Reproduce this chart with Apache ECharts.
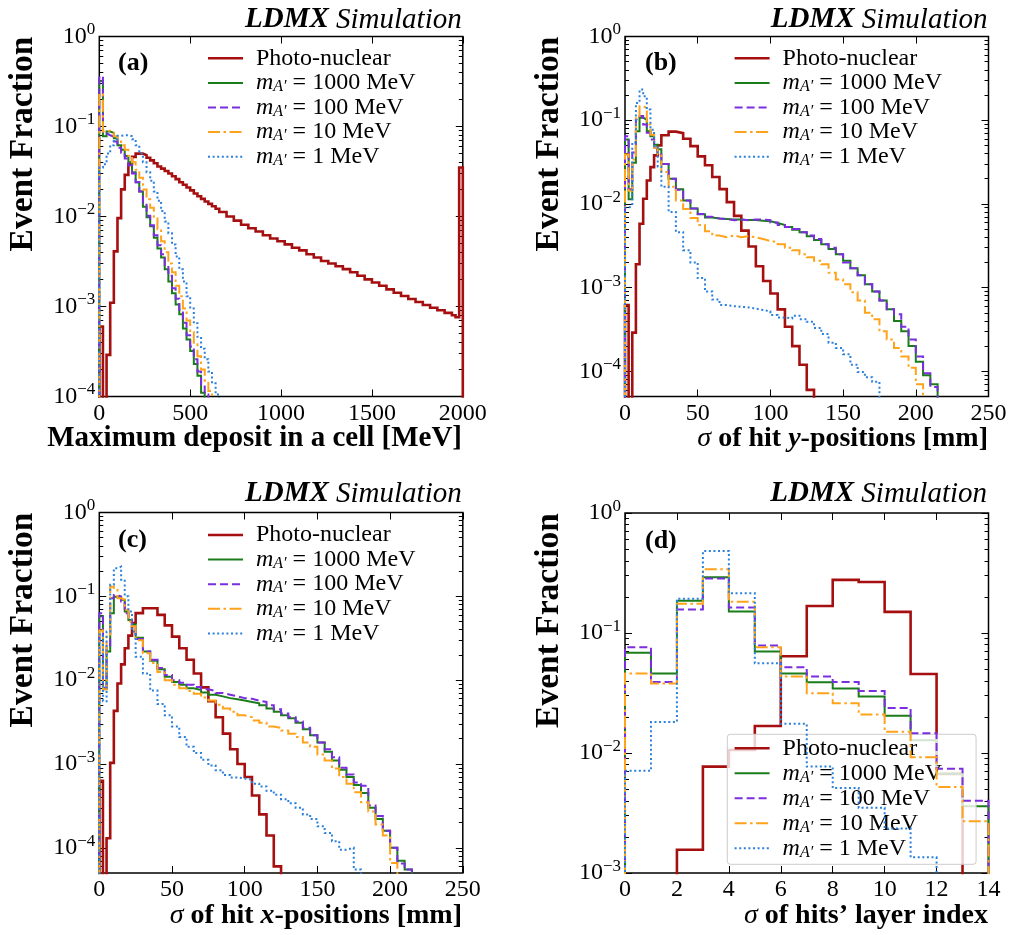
<!DOCTYPE html>
<html>
<head>
<meta charset="utf-8">
<script src="https://cdn.jsdelivr.net/npm/echarts@6.0.0/dist/echarts.min.js"></script>
<style>
html, body { margin: 0; padding: 0; background: #ffffff; }
#chart { width: 1011px; height: 935px; }
</style>
</head>
<body>
<div id="chart"></div>
<script>
function range(a, b, step) { const r = []; for (let v = a; v < b - 1e-9; v += step) r.push(+v.toFixed(4)); return r; }

// ---------------- names / labels ----------------
const seriesNames = ['Photo-nuclear', '1000', '100', '10', '1'];
const panelLetters = ['(a)', '(b)', '(c)', '(d)'];
const xTitles = ['Maximum deposit in a cell [MeV]', '{g|\u03c3} of hit {i|y}-positions [mm]', '{g|\u03c3} of hit {i|x}-positions [mm]', '{g|\u03c3} of hits\u2019 layer index'];
const yTitle = 'Event Fraction';
const yMajorAC = [1e-4, 1e-3, 1e-2, 1e-1, 1];
const yMajorD = [1e-3, 1e-2, 1e-1, 1];

// ---------------- bin edges ----------------
const edgesA = [...range(0, 660, 20), ...range(660, 1940, 40), 1940, 1960, 1980, 2000];
const edgesBC = [...range(0, 25, 2.5), ...range(25, 215, 5), 215];
const edgesD = [...range(0, 14, 1), 14];

// ---------------- (a) maximum deposit ----------------
const a_photo = [6.0e-4, 0, 2.9e-4, 1.1e-3, 4.1e-3, 9.6e-3, 0.020, 0.029, 0.038, 0.046, 0.050, 0.050, 0.048, 0.045, 0.042, 0.039, 0.036, 0.034, 0.032, 0.030, 0.028, 0.026, 0.024, 0.0225, 0.021, 0.0195, 0.018, 0.0168, 0.0157, 0.0147, 0.0138, 0.0130, 0.0122,
  0.0112, 0.0100, 0.0090, 0.0081, 0.0074, 0.0068, 0.0062, 0.0057, 0.0053, 0.0049, 0.0045, 0.0042, 0.0038, 0.0035, 0.0032, 0.0030, 0.0028, 0.0026, 0.0024, 0.0022, 0.0020, 0.00185, 0.0017, 0.00155, 0.00142, 0.00131, 0.00121, 0.00112, 0.00104, 0.00097, 0.00091, 0.00085,
  0.00080, 0.00076, 0.035];
const a_m1000 = [0.32, 0.078, 0.088, 0.085, 0.074, 0.062, 0.055, 0.047, 0.040, 0.031, 0.024, 0.019, 0.0128, 0.0098, 0.0078, 0.0058, 0.0044, 0.0035, 0.0026, 0.0019, 0.0014, 0.00105, 8.2e-4, 5.7e-4, 4.3e-4, 3.2e-4, 2.3e-4, 1.7e-4, 1.1e-4];
const a_m100 = [0.36, 0.084, 0.080, 0.077, 0.068, 0.058, 0.051, 0.044, 0.037, 0.030, 0.024, 0.019, 0.0135, 0.0102, 0.0080, 0.0062, 0.0048, 0.0038, 0.0029, 0.0022, 0.0016, 0.00122, 9.2e-4, 6.6e-4, 4.8e-4, 3.6e-4, 2.6e-4, 1.9e-4, 1.35e-4, 1.05e-4];
const a_m10 = [0.23, 0.088, 0.090, 0.086, 0.078, 0.068, 0.062, 0.055, 0.047, 0.040, 0.033, 0.027, 0.020, 0.0155, 0.0125, 0.0095, 0.0072, 0.0053, 0.0040, 0.0030, 0.0024, 0.0017, 0.0013, 9.5e-4, 7.0e-4, 5.2e-4, 3.8e-4, 2.8e-4, 2.0e-4, 1.5e-4, 1.15e-4];
const a_m1 = [0.035, 0.038, 0.050, 0.062, 0.072, 0.079, 0.080, 0.080, 0.078, 0.072, 0.062, 0.050, 0.040, 0.031, 0.025, 0.019, 0.015, 0.0115, 0.0088, 0.0065, 0.0049, 0.0036, 0.0026, 0.0019, 0.0013, 9.5e-4, 6.5e-4, 4.6e-4, 3.4e-4, 2.6e-4, 1.9e-4, 1.4e-4, 1.05e-4];

// ---------------- (b) sigma of hit y ----------------
const b_photo = [6.2e-4, 0, 2.9e-4, 1.9e-3, 5.8e-3, 0.0115, 0.019, 0.0275, 0.038, 0.050,
  0.066, 0.073, 0.070, 0.060, 0.049, 0.037, 0.029, 0.021, 0.015, 0.0105, 0.0072, 0.0048, 0.0031, 0.0018, 0.0012, 8.5e-4, 5.5e-4, 3.4e-4, 2.0e-4, 1.2e-4, 6e-5];
const b_m1000 = [0.059, 0.0114, 0.031, 0.074, 0.107, 0.102, 0.074, 0.0645, 0.051, 0.045,
  0.030, 0.020, 0.015, 0.011, 0.0088, 0.0075, 0.0069, 0.0067, 0.0066, 0.0065, 0.0065, 0.0064, 0.0064, 0.0063, 0.0062, 0.0059, 0.0056, 0.0053, 0.0049, 0.0046, 0.0041, 0.0037, 0.0033, 0.0029, 0.0025, 0.0021, 0.0017, 0.0014, 0.0011, 9e-4, 7e-4, 5.5e-4, 4.0e-4, 3.0e-4, 2.0e-4, 1.3e-4, 9e-5, 7e-5];
const b_m100 = [0.0645, 0.015, 0.041, 0.102, 0.112, 0.089, 0.071, 0.059, 0.047, 0.039,
  0.030, 0.020, 0.0148, 0.0110, 0.0088, 0.0076, 0.0070, 0.0067, 0.0066, 0.0064, 0.0065, 0.0064, 0.0065, 0.0065, 0.0064, 0.0060, 0.0056, 0.0053, 0.0050, 0.0046, 0.0042, 0.0038, 0.0033, 0.0030, 0.0025, 0.0020, 0.0017, 0.0014, 0.0011, 9e-4, 7e-4, 5.5e-4, 4.8e-4, 3.4e-4, 2.4e-4, 1.5e-4, 9.5e-5, 6.5e-5];
const b_m10 = [0.039, 0.0144, 0.034, 0.112, 0.147, 0.140, 0.089, 0.067, 0.047, 0.039,
  0.024, 0.016, 0.011, 0.0087, 0.0068, 0.0056, 0.0047, 0.0042, 0.0040, 0.0042, 0.0040, 0.0041, 0.0040, 0.0038, 0.0036, 0.0035, 0.0033, 0.0030, 0.0028, 0.0025, 0.0023, 0.0021, 0.0019, 0.0015, 0.00125, 0.0011, 8.8e-4, 7.0e-4, 5.0e-4, 4.2e-4, 3.0e-4, 2.4e-4, 1.9e-4, 1.5e-4, 1.1e-4, 7e-5];
const b_m1 = [0.009, 0.0095, 0.054, 0.161, 0.232, 0.193, 0.134, 0.077, 0.049, 0.028,
  0.016, 0.0080, 0.0046, 0.0028, 0.0020, 0.0013, 9.0e-4, 7.2e-4, 6.2e-4, 6.0e-4, 5.9e-4, 5.8e-4, 5.6e-4, 5.4e-4, 5.2e-4, 4.7e-4, 4.4e-4, 4.3e-4, 4.6e-4, 4.2e-4, 3.9e-4, 3.3e-4, 2.8e-4, 2.2e-4, 1.9e-4, 1.6e-4, 1.2e-4, 9.8e-5, 8.5e-5, 7.5e-5];

// ---------------- (c) sigma of hit x ----------------
const c_photo = [6.3e-4, 0, 1.3e-4, 1.03e-3, 4.3e-3, 9.1e-3, 0.0154, 0.024, 0.034, 0.048,
  0.063, 0.072, 0.072, 0.060, 0.045, 0.033, 0.024, 0.0175, 0.012, 0.0082, 0.0056, 0.0036, 0.0023, 0.0015, 0.0010, 7.0e-4, 4.2e-4, 2.5e-4, 1.4e-4, 6e-5];
const c_m1000 = [0.058, 0.0078, 0.022, 0.063, 0.099, 0.099, 0.091, 0.066, 0.052, 0.046,
  0.032, 0.022, 0.017, 0.0135, 0.011, 0.0095, 0.0088, 0.0080, 0.0076, 0.0071, 0.0067, 0.0064, 0.0061, 0.0059, 0.0057, 0.0055, 0.0053, 0.0050, 0.0046, 0.0042, 0.0038, 0.0035, 0.0031, 0.0026, 0.0022, 0.0018, 0.0014, 0.0011, 8.5e-4, 7.0e-4, 5.6e-4, 4.5e-4, 3.0e-4, 2.2e-4, 1.6e-4, 1.0e-4, 7e-5, 5.5e-5];
const c_m100 = [0.063, 0.0081, 0.026, 0.095, 0.104, 0.099, 0.087, 0.063, 0.052, 0.042,
  0.031, 0.022, 0.0175, 0.014, 0.0115, 0.010, 0.0093, 0.0088, 0.0083, 0.0078, 0.0074, 0.0070, 0.0067, 0.0064, 0.0061, 0.0060, 0.0057, 0.0055, 0.0050, 0.0045, 0.0040, 0.0036, 0.0032, 0.0027, 0.0022, 0.0018, 0.0015, 0.0012, 9e-4, 7.5e-4, 6.0e-4, 5.5e-4, 3.2e-4, 2.4e-4, 1.6e-4, 1.0e-4, 6.5e-5, 5.5e-5];
const c_m10 = [0.039, 0.0078, 0.035, 0.13, 0.12, 0.095, 0.091, 0.069, 0.050, 0.044,
  0.030, 0.021, 0.016, 0.0125, 0.0100, 0.0088, 0.0080, 0.0074, 0.0069, 0.0062, 0.0057, 0.0051, 0.0046, 0.0042, 0.0038, 0.0036, 0.0033, 0.0031, 0.0028, 0.0027, 0.0025, 0.0023, 0.0021, 0.0018, 0.0016, 0.0013, 0.0011, 8.8e-4, 7.0e-4, 5.8e-4, 4.6e-4, 3.5e-4, 2.7e-4, 1.9e-4, 1.4e-4, 6.6e-5];
const c_m1 = [0.035, 0.0056, 0.038, 0.137, 0.216, 0.226, 0.158, 0.10, 0.066, 0.038,
  0.019, 0.012, 0.0075, 0.0052, 0.0038, 0.0028, 0.0021, 0.0016, 0.00135, 0.00112, 9.6e-4, 8.4e-4, 7.4e-4, 6.9e-4, 6.7e-4, 6.5e-4, 5.8e-4, 5.4e-4, 4.8e-4, 4.3e-4, 3.8e-4, 3.4e-4, 3.0e-4, 2.5e-4, 2.2e-4, 1.8e-4, 1.5e-4, 1.2e-4, 9.5e-5, 1.0e-4, 5.5e-5];

// ---------------- (d) sigma of layer index ----------------
const d_photo = [0, 0, 1.56e-3, 7.7e-3, 0.0106, 0.0168, 0.064, 0.168, 0.277, 0.266, 0.150, 0.0455, 6.7e-3];
const d_m1000 = [0.0686, 0.046, 0.186, 0.291, 0.151, 0.070, 0.046, 0.0388, 0.0344, 0.0295, 0.0204, 0.0128, 6.7e-3, 3.6e-3];
const d_m100 = [0.076, 0.039, 0.157, 0.284, 0.163, 0.0785, 0.0518, 0.0433, 0.039, 0.0329, 0.0237, 0.0146, 7.4e-3, 4.0e-3];
const d_m10 = [0.046, 0.038, 0.175, 0.34, 0.182, 0.076, 0.0433, 0.0314, 0.026, 0.0209, 0.015, 9.2e-3, 5.2e-3, 2.7e-3];
const d_m1 = [7.1e-3, 0.0181, 0.193, 0.482, 0.214, 0.0559, 0.0175, 7.7e-3, 5.1e-3, 3.5e-3, 2.35e-3, 1.35e-3];

// ---------------- styles ----------------
const FONT = '"Liberation Serif", "Times New Roman", Times, serif';
const COLORS = ['#a50f0f', '#1a7d1a', '#7a2ee0', '#ffa31a', '#2a80dc'];
const WIDTHS = [2.6, 2, 2, 2, 2];
const DASHES = ['solid', 'solid', [8, 4], [12, 3.5, 2.5, 3.5], [2, 2.6]];
const FLOOR = 1e-12;

function hist(edges, vals) {
  const n = Math.min(vals.length, edges.length - 1);
  const pts = [[edges[0], FLOOR]];
  for (let i = 0; i < n; i++) pts.push([edges[i], vals[i] > 0 ? vals[i] : FLOOR]);
  pts.push([edges[n], FLOOR]);
  return pts;
}
function minorTicks(lo, hi, yMin) {
  const r = [];
  for (let d = lo; d < hi; d++) for (let m = 2; m <= 9; m++) { const v = m * Math.pow(10, d); if (v > yMin * 1.0001) r.push(v); }
  return r;
}
function expLabel(v) {
  const n = Math.round(Math.log10(v));
  return '{b|10}{s|' + (n < 0 ? '\u2212' + (-n) : String(n)) + '}';
}

const panels = [
  { grid: { left: 99.3, top: 36.5, width: 363.5, height: 360 }, xMin: 0, xMax: 2000, xInt: 500,
    yMin: 0.99999e-4, yMax: 1.00001, majors: yMajorAC, minors: minorTicks(-4, 0, 1e-4),
    edges: edgesA, vals: [a_photo, a_m1000, a_m100, a_m10, a_m1],
    legend: { left: 206.7, top: 46.3, box: false }, letter: [118, 63], title: [461.7, 20], xt: [462, 439], yt: [23.5, 36.5] },
  { grid: { left: 625, top: 36.5, width: 363.5, height: 360 }, xMin: 0, xMax: 250, xInt: 50,
    yMin: 5e-5, yMax: 1.00001, majors: yMajorAC, minors: minorTicks(-5, 0, 5e-5),
    edges: edgesBC, vals: [b_photo, b_m1000, b_m100, b_m10, b_m1],
    legend: { left: 733.3, top: 46.3, box: false }, letter: [645, 63], title: [987.5, 20], xt: [988, 439], yt: [549, 36.5] },
  { grid: { left: 99.3, top: 512.5, width: 363.5, height: 360.5 }, xMin: 0, xMax: 250, xInt: 50,
    yMin: 5e-5, yMax: 1.00001, majors: yMajorAC, minors: minorTicks(-5, 0, 5e-5),
    edges: edgesBC, vals: [c_photo, c_m1000, c_m100, c_m10, c_m1],
    legend: { left: 206.7, top: 523, box: false }, letter: [118, 540], title: [461.7, 494], xt: [462, 916], yt: [23.5, 512.5] },
  { grid: { left: 625, top: 513, width: 363.5, height: 360 }, xMin: 0, xMax: 14, xInt: 2,
    yMin: 0.99999e-3, yMax: 1.00001, majors: yMajorD, minors: minorTicks(-3, 0, 1e-3),
    edges: edgesD, vals: [d_photo, d_m1000, d_m100, d_m10, d_m1],
    legend: { left: 727.3, top: 734.3, box: true }, letter: [645, 541], title: [987, 494], xt: [988, 916], yt: [549, 513] }
];

const option = {
  animation: false,
  backgroundColor: '#ffffff',
  textStyle: { fontFamily: FONT },
  grid: [], xAxis: [], yAxis: [], series: [], legend: [], graphic: []
};

const tickStyle = { color: '#000', width: 1 };
panels.forEach((p, i) => {
  option.grid.push(Object.assign({ show: true, borderColor: '#000', borderWidth: 1.5, backgroundColor: 'transparent', containLabel: false, outerBoundsMode: 'none' }, p.grid));
  ['bottom', 'top'].forEach(pos => {
    option.xAxis.push({
      gridIndex: i, type: 'value', position: pos, min: p.xMin, max: p.xMax, interval: p.xInt,
      axisLine: { show: false }, splitLine: { show: false },
      axisTick: { show: true, inside: true, length: 7, lineStyle: tickStyle },
      axisLabel: pos === 'bottom' ? { show: true, margin: 5, color: '#000', fontFamily: FONT, fontSize: 24, hideOverlap: false, formatter: v => String(v) } : { show: false }
    });
  });
  [['left', false], ['left', true], ['right', false], ['right', true]].forEach(([pos, minor]) => {
    const ax = {
      gridIndex: i, type: 'log', logBase: 10, position: pos, min: p.yMin, max: p.yMax,
      axisLine: { show: false }, splitLine: { show: false },
      axisTick: { show: true, inside: true, length: minor ? 4 : 7, lineStyle: tickStyle, customValues: minor ? p.minors : p.majors },
      axisLabel: { show: false }
    };
    if (pos === 'left' && !minor) {
      ax.axisLabel = {
        show: true, customValues: p.majors, margin: 4, hideOverlap: false, formatter: expLabel,
        rich: {
          b: { fontFamily: FONT, fontSize: 24, lineHeight: 30, color: '#000' },
          s: { fontFamily: FONT, fontSize: 17, lineHeight: 16, verticalAlign: 'top', color: '#000' }
        }
      };
    }
    option.yAxis.push(ax);
  });
  p.vals.forEach((vals, s) => {
    option.series.push({
      type: 'line', name: seriesNames[s], xAxisIndex: 2 * i, yAxisIndex: 4 * i,
      data: hist(p.edges, vals), step: 'end', symbol: 'none', showSymbol: false, clip: true, silent: true,
      lineStyle: { color: COLORS[s], width: WIDTHS[s], type: DASHES[s], cap: 'butt', join: 'miter' },
      itemStyle: { color: COLORS[s] }, z: 2 + s
    });
  });
  const lg = {
    orient: 'vertical', left: p.legend.left, top: p.legend.top, selectedMode: false,
    itemWidth: 35, itemHeight: 14, itemGap: 0.6, padding: 0,
    data: seriesNames,
    itemStyle: { opacity: 0 },
    lineStyle: { width: 'inherit' },
    formatter: name => name === 'Photo-nuclear' ? 'Photo-nuclear' : '{m|m}{s|A\u2032} = ' + name + ' MeV',
    textStyle: {
      fontFamily: FONT, fontSize: 24, color: '#000', lineHeight: 24, padding: [0, 0, 0, 8],
      rich: {
        m: { fontFamily: FONT, fontStyle: 'italic', fontSize: 24, lineHeight: 24, color: '#000' },
        s: { fontFamily: FONT, fontStyle: 'italic', fontSize: 16, lineHeight: 13, verticalAlign: 'bottom', color: '#000' }
      }
    }
  };
  if (p.legend.box) {
    Object.assign(lg, { padding: [2, 34, 4, 6], itemGap: 1, borderColor: '#cccccc', borderWidth: 1, borderRadius: 3, backgroundColor: 'rgba(255,255,255,0.8)' });
  }
  option.legend.push(lg);

  option.graphic.push({
    type: 'text', x: p.title[0], y: p.title[1], silent: true, z: 10,
    style: { text: '{b|LDMX} {i|Simulation}', font: 'italic 29px ' + FONT, fill: '#000', align: 'right', verticalAlign: 'middle', textAlign: 'right', textVerticalAlign: 'middle',
      rich: { b: { font: 'italic bold 29px ' + FONT, fill: '#000' }, i: { font: 'italic 29px ' + FONT, fill: '#000' } } }
  });
  option.graphic.push({
    type: 'text', x: p.letter[0], y: p.letter[1], silent: true, z: 10,
    style: { text: panelLetters[i], font: 'bold 26px ' + FONT, fill: '#000', align: 'left', verticalAlign: 'middle', textAlign: 'left', textVerticalAlign: 'middle' }
  });
  const xs = i === 0 ? 29 : 28;
  option.graphic.push({
    type: 'text', x: p.xt[0], y: p.xt[1], silent: true, z: 10,
    style: { text: xTitles[i], font: 'bold ' + xs + 'px ' + FONT, fill: '#000', align: 'right', verticalAlign: 'middle', textAlign: 'right', textVerticalAlign: 'middle',
      rich: { g: { font: 'italic ' + xs + 'px ' + FONT, fill: '#000' }, i: { font: 'italic bold ' + xs + 'px ' + FONT, fill: '#000' } } }
  });
  option.graphic.push({
    type: 'text', x: p.yt[0], y: p.yt[1], rotation: Math.PI / 2, silent: true, z: 10,
    style: { text: yTitle, font: 'bold 33.5px ' + FONT, fill: '#000', align: 'right', verticalAlign: 'middle', textAlign: 'right', textVerticalAlign: 'middle' }
  });
});

const chart = echarts.init(document.getElementById('chart'), null, { renderer: 'canvas' });
chart.setOption(option);
</script>
</body>
</html>
